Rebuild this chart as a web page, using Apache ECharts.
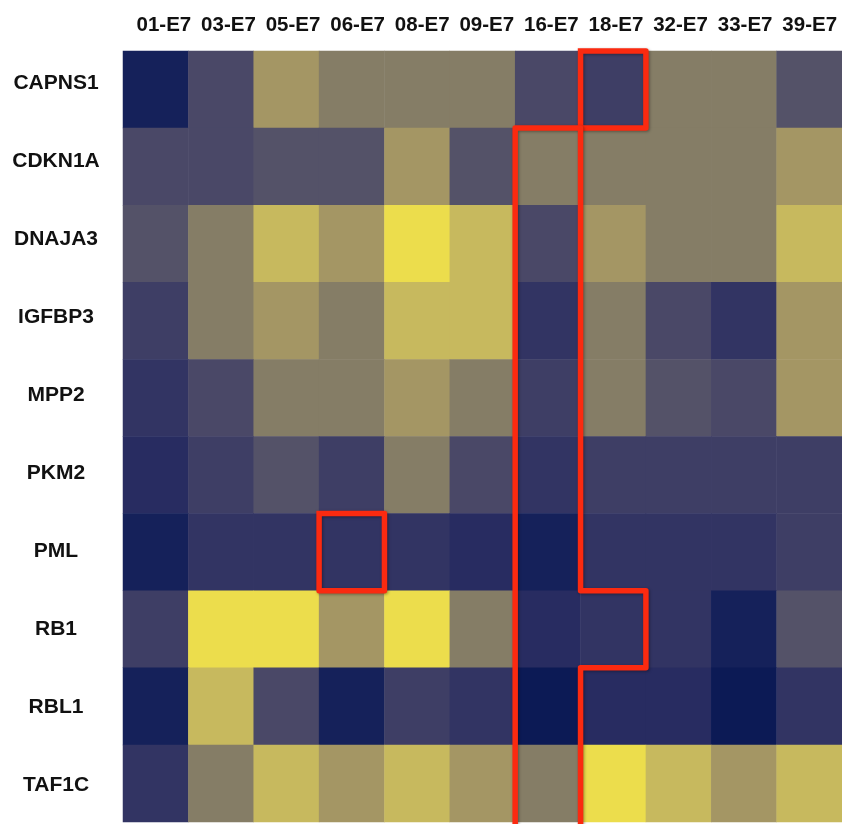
<!DOCTYPE html>
<html>
<head>
<meta charset="utf-8">
<script src="https://cdn.jsdelivr.net/npm/echarts@6/dist/echarts.min.js"></script>
<style>
html,body{margin:0;padding:0;background:#fff;}
#chart{width:842px;height:824px;}
</style>
</head>
<body>
<div id="chart"></div>
<script>
// Categories
var samples = ['01-E7','03-E7','05-E7','06-E7','08-E7','09-E7','16-E7','18-E7','32-E7','33-E7','39-E7'];
var genes = ['CAPNS1','CDKN1A','DNAJA3','IGFBP3','MPP2','PKM2','PML','RB1','RBL1','TAF1C'];

// Expression levels (0 = lowest / dark blue, 10 = highest / yellow)
var CAPNS1 = [1,5,8,7,7,7,5,4,7,7,6];
var CDKN1A = [5,5,6,6,8,6,7,7,7,7,8];
var DNAJA3 = [6,7,9,8,10,9,5,8,7,7,9];
var IGFBP3 = [4,7,8,7,9,9,3,7,5,3,8];
var MPP2   = [3,5,7,7,8,7,4,7,6,5,8];
var PKM2   = [2,4,6,4,7,5,3,4,4,4,4];
var PML    = [1,3,3,3,3,2,1,3,3,3,4];
var RB1    = [4,10,10,8,10,7,2,3,3,1,6];
var RBL1   = [1,9,5,1,4,3,0,2,2,0,3];
var TAF1C  = [3,7,9,8,9,8,7,10,9,8,9];

// Highlight outlines, as corner points in cell-boundary units (column edge, row edge)
var outline18 = [[7,0],[8,0],[8,1],[7,1],[7,0]];
var outlinePML = [[3,6],[4,6],[4,7],[3,7],[3,6]];
var outline16 = [[6,10],[6,1],[7,1],[7,7],[8,7],[8,8],[7,8],[7,10]];
var outlines = [outline18, outlinePML, outline16];

var palette = ['#0c1a55','#15215a','#282c61','#323463','#3e3e65','#4a4867','#545268','#857d66','#a49664','#c7b95e','#ecdd4c'];

var rows = [CAPNS1, CDKN1A, DNAJA3, IGFBP3, MPP2, PKM2, PML, RB1, RBL1, TAF1C];
var heatData = [];
rows.forEach(function (row, r) {
  row.forEach(function (v, c) { heatData.push([c, r, v]); });
});

var labelFont = 'Liberation Sans, Arial, sans-serif';
var hidden = { show: false };

var chart = echarts.init(document.getElementById('chart'));
chart.setOption({
  backgroundColor: '#ffffff',
  animation: false,
  grid: [
    { left: 123, right: -2, top: 51, bottom: 2 },
    { left: 131.6, right: -2.4, top: 44, bottom: -6 }
  ],
  xAxis: [
    {
      gridIndex: 0, type: 'category', data: samples, position: 'top',
      axisLine: hidden, axisTick: hidden, splitLine: hidden, axisLabel: hidden
    },
    {
      gridIndex: 1, type: 'category', data: samples, position: 'top',
      axisLine: hidden, axisTick: hidden, splitLine: hidden,
      axisLabel: {
        fontFamily: labelFont, fontWeight: 'bold', fontSize: 20.5,
        color: '#111', margin: 18.5, verticalAlign: 'middle', interval: 0
      }
    }
  ],
  yAxis: [
    {
      gridIndex: 0, type: 'category', data: genes, inverse: true,
      axisLine: hidden, axisTick: hidden, splitLine: hidden, axisLabel: hidden
    },
    {
      gridIndex: 1, type: 'category', data: genes, inverse: true,
      axisLine: hidden, axisTick: hidden, splitLine: hidden,
      axisLabel: {
        fontFamily: labelFont, fontWeight: 'bold', fontSize: 21,
        color: '#111', margin: 75.6, align: 'center', interval: 0
      }
    }
  ],
  visualMap: {
    show: false, type: 'continuous', min: 0, max: 10, dimension: 2, seriesIndex: 0,
    inRange: { color: palette }
  },
  series: [
    {
      type: 'heatmap', xAxisIndex: 0, yAxisIndex: 0, data: heatData,
      itemStyle: { borderWidth: 0 },
      emphasis: { disabled: true }
    },
    {
      type: 'custom', xAxisIndex: 0, yAxisIndex: 0, z: 10, silent: true,
      data: outlines.map(function (o, i) { return [0, 0, i]; }),
      renderItem: function (params, api) {
        var pts = outlines[api.value(2)];
        var c0 = api.coord([0, 0]);
        var sz = api.size([1, 1]);
        var w = sz[0], h = sz[1];
        var points = pts.map(function (p) {
          return [c0[0] + (p[0] - 0.5) * w, c0[1] + (p[1] - 0.5) * h];
        });
        return {
          type: 'polyline',
          shape: { points: points },
          style: {
            fill: null, stroke: '#fb2a10', lineWidth: 5.5, lineJoin: 'round', lineCap: 'square',
            shadowBlur: 3, shadowColor: 'rgba(0,0,0,0.35)', shadowOffsetX: 1, shadowOffsetY: 1
          }
        };
      }
    }
  ]
});
</script>
</body>
</html>
